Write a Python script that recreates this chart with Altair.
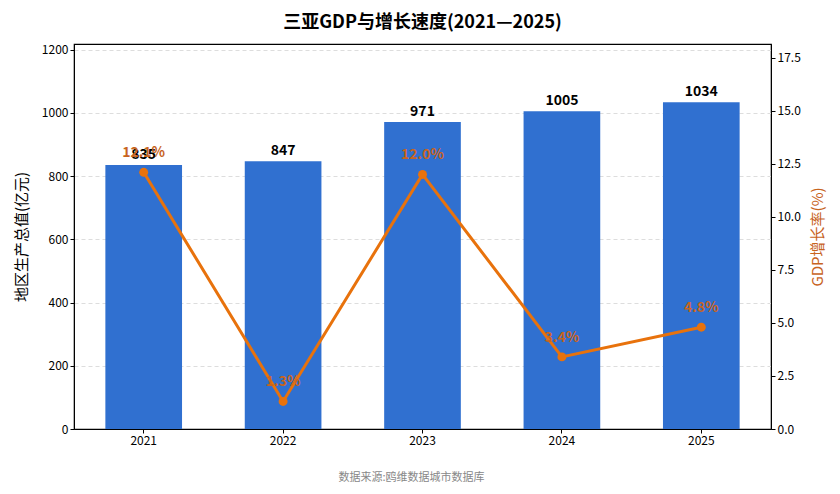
import altair as alt
import pandas as pd

years = ["2021", "2022", "2023", "2024", "2025"]
gdp = [835, 847, 971, 1005, 1034]
growth = [12.1, 1.3, 12.0, 3.4, 4.8]

df = pd.DataFrame({"year": years, "gdp": gdp, "growth": growth})
df["gdp_label"] = df["gdp"].astype(str)
df["growth_label"] = df["growth"].map(lambda v: f"{v:.1f}%")

FONT = "Noto Sans CJK SC"
BAR = "#3070d0"
LINE = "#e8720c"
LABEL_OR = "#c8641e"

x = alt.X("year:N", title="数据来源:鸥维数据城市数据库",
          scale=alt.Scale(paddingInner=0.45, paddingOuter=0.225),
          axis=alt.Axis(labelAngle=0, labelFontSize=12, labelColor="black",
                        tickColor="black", domainColor="black", tickSize=4,
                        titleFontSize=11, titleColor="#888888", titleFontWeight="normal",
                        titlePadding=25, titleX=337))

y_left = alt.Y("gdp:Q", title="地区生产总值(亿元)",
               scale=alt.Scale(domain=[0, 1218], nice=False),
               axis=alt.Axis(values=[0, 200, 400, 600, 800, 1000, 1200], format="d",
                             grid=True, gridDash=[4, 3], gridColor="#dddddd",
                             labelFontSize=12, labelColor="black", tickColor="black",
                             domainColor="black", tickSize=4,
                             titleFontSize=15, titleColor="black", titleFontWeight="normal",
                             titlePadding=12))

bars = alt.Chart(df).mark_bar(color=BAR).encode(x=x, y=y_left)
bar_text = alt.Chart(df).mark_text(baseline="bottom", dy=-3, fontSize=14,
                                   fontWeight="bold", color="black", font=FONT).encode(
    x=x, y=alt.Y("gdp:Q"), text="gdp_label:N")

y_right = alt.Y("growth:Q", title="GDP增长率(%)",
                scale=alt.Scale(domain=[0, 18.15], nice=False),
                axis=alt.Axis(orient="right", values=[0, 2.5, 5, 7.5, 10, 12.5, 15, 17.5],
                              format=".1f", grid=False,
                              labelFontSize=12, labelColor="black", tickColor="black",
                              domainColor="black", tickSize=4,
                              titleFontSize=15, titleColor=LABEL_OR, titleFontWeight="normal",
                              titleAngle=270, titleBaseline="top", titlePadding=10))

line = alt.Chart(df).mark_line(color=LINE, strokeWidth=3,
                               point=alt.OverlayMarkDef(color=LINE, size=80, filled=True, opacity=1)).encode(
    x=x, y=y_right)
line_text = alt.Chart(df).mark_text(baseline="bottom", dy=-12, fontSize=14,
                                    fontWeight="bold", color=LABEL_OR, font=FONT).encode(
    x=x, y=alt.Y("growth:Q"), text="growth_label:N")

left = alt.layer(bars, bar_text)
right = alt.layer(line, line_text)

chart = alt.layer(left, right).resolve_scale(y="independent").properties(
    width=697, height=385,
    title=alt.TitleParams("三亚GDP与增长速度(2021—2025)", fontSize=18, fontWeight="bold",
                          font=FONT, color="black", offset=12),
    padding={"left": 6, "top": 5, "right": 5, "bottom": 5},
).configure(font=FONT).configure_view(stroke="black", strokeWidth=1.2)

chart.save("out.html", embed_options={"renderer": "svg", "actions": False})
